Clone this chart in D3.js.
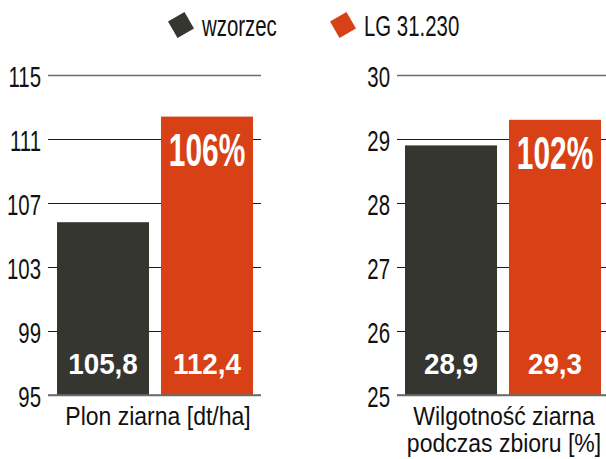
<!DOCTYPE html>
<html>
<head>
<meta charset="utf-8">
<script src="https://cdn.jsdelivr.net/npm/d3@7"></script>
<style>
  body { margin: 0; background: #fff; }
  svg text { font-family: 'Liberation Sans', Arial, sans-serif; }
</style>
</head>
<body>
<div class="canvas"></div>
<script>
// data
const categories = ['wzorzec', 'LG 31.230']
const yieldValues = [105.8, 112.4]
const moistureValues = [28.9, 29.3]
const yieldTicks = [95, 99, 103, 107, 111, 115]
const moistureTicks = [25, 26, 27, 28, 29, 30]
const pctLabels = ['106%', '102%']
const titles = [['Plon ziarna [dt/ha]'], ['Wilgotność ziarna', 'podczas zbioru [%]']]

const colors = ['#363631', '#d84116']

const svg = d3.select('.canvas')
    .append('svg')
    .attr('width', 606)
    .attr('height', 459)

const color = d3.scaleOrdinal().domain(categories).range(colors)

// condensed text helper (squeeze horizontally)
const squeezed = (parent, x, y, sx, txt, opts) => {
    const g = parent.append('g')
        .attr('transform', `translate(${x}, ${y}) scale(${sx}, 1)`)
    return g.append('text')
        .attr('text-anchor', opts.anchor || 'middle')
        .attr('font-size', opts.size)
        .attr('font-weight', opts.weight || 'normal')
        .attr('fill', opts.fill || '#111')
        .text(txt)
}

// legend
const legendX = [181, 343]
categories.forEach((c, i) => {
    svg.append('rect')
        .attr('x', -9.5).attr('y', -9.5)
        .attr('width', 19).attr('height', 19)
        .attr('fill', color(c))
        .attr('transform', `translate(${legendX[i]}, 25) rotate(-30)`)
    squeezed(svg, legendX[i] + 21, 36, 0.68, c, { anchor: 'start', size: 30 })
})

const panels = [
    { values: yieldValues, ticks: yieldTicks, axisX: 48, gridEnd: 261, bars: [57, 253], labelPad: 7, titleX: 158 },
    { values: moistureValues, ticks: moistureTicks, axisX: 397, gridEnd: 606, bars: [405, 601], labelPad: 7, titleX: 504 }
]

panels.forEach((p, pi) => {
    const y = d3.scaleLinear()
        .domain([p.ticks[0], p.ticks[p.ticks.length - 1]])
        .range([395, 75])

    const x = d3.scaleBand()
        .domain(categories)
        .range(p.bars)
        .paddingInner(0.115)

    const sx = 0.68
    const yAxis = d3.axisLeft(y)
        .tickValues(p.ticks)
        .tickFormat(d3.format('d'))
        .tickSizeInner(-(p.gridEnd - p.axisX))
        .tickSizeOuter(0)
        .tickPadding(p.labelPad)

    const axisGroup = svg.append('g')
        .attr('transform', `translate(${p.axisX}, 0)`)
        .call(yAxis)

    axisGroup.select('.domain').remove()
    axisGroup.selectAll('.tick line')
        .attr('stroke', d => (d === p.ticks[0] || d === p.ticks[p.ticks.length - 1]) ? '#6b6b6b' : '#1a1a1a')
        .attr('stroke-width', d => (d === p.ticks[0] || d === p.ticks[p.ticks.length - 1]) ? 1.6 : 1.2)
    axisGroup.selectAll('.tick text')
        .attr('font-family', "'Liberation Sans', Arial, sans-serif")
        .attr('font-size', 30)
        .attr('fill', '#111')
        .attr('x', -p.labelPad / sx)
        .attr('dy', '0.37em')
        .attr('transform', `scale(${sx}, 1)`)

    // bars
    const bars = svg.append('g')
    bars.selectAll('rect')
        .data(p.values)
        .enter()
        .append('rect')
            .attr('x', (d, i) => x(categories[i]))
            .attr('y', d => y(d))
            .attr('width', x.bandwidth())
            .attr('height', d => y(p.ticks[0]) - y(d))
            .attr('fill', (d, i) => color(categories[i]))

    // bottom line redrawn over bars
    svg.append('line')
        .attr('x1', p.axisX).attr('x2', p.gridEnd)
        .attr('y1', y(p.ticks[0])).attr('y2', y(p.ticks[0]))
        .attr('stroke', '#6b6b6b').attr('stroke-width', 1.6)

    // value labels
    p.values.forEach((v, i) => {
        squeezed(bars, x(categories[i]) + x.bandwidth() / 2, y(p.ticks[0]) - 21, 0.96,
            String(v).replace('.', ','), { size: 29, weight: 'bold', fill: '#fff' })
    })

    // percentage label on second bar
    squeezed(bars, x(categories[1]) + x.bandwidth() / 2, y(p.values[1]) + 49, 0.65,
        pctLabels[pi], { size: 46, weight: 'bold', fill: '#fff' })

    // axis title
    titles[pi].forEach((t, li) => {
        squeezed(svg, p.titleX, 425 + li * 27, 0.92, t, { size: 25 })
    })
})
</script>
</body>
</html>
